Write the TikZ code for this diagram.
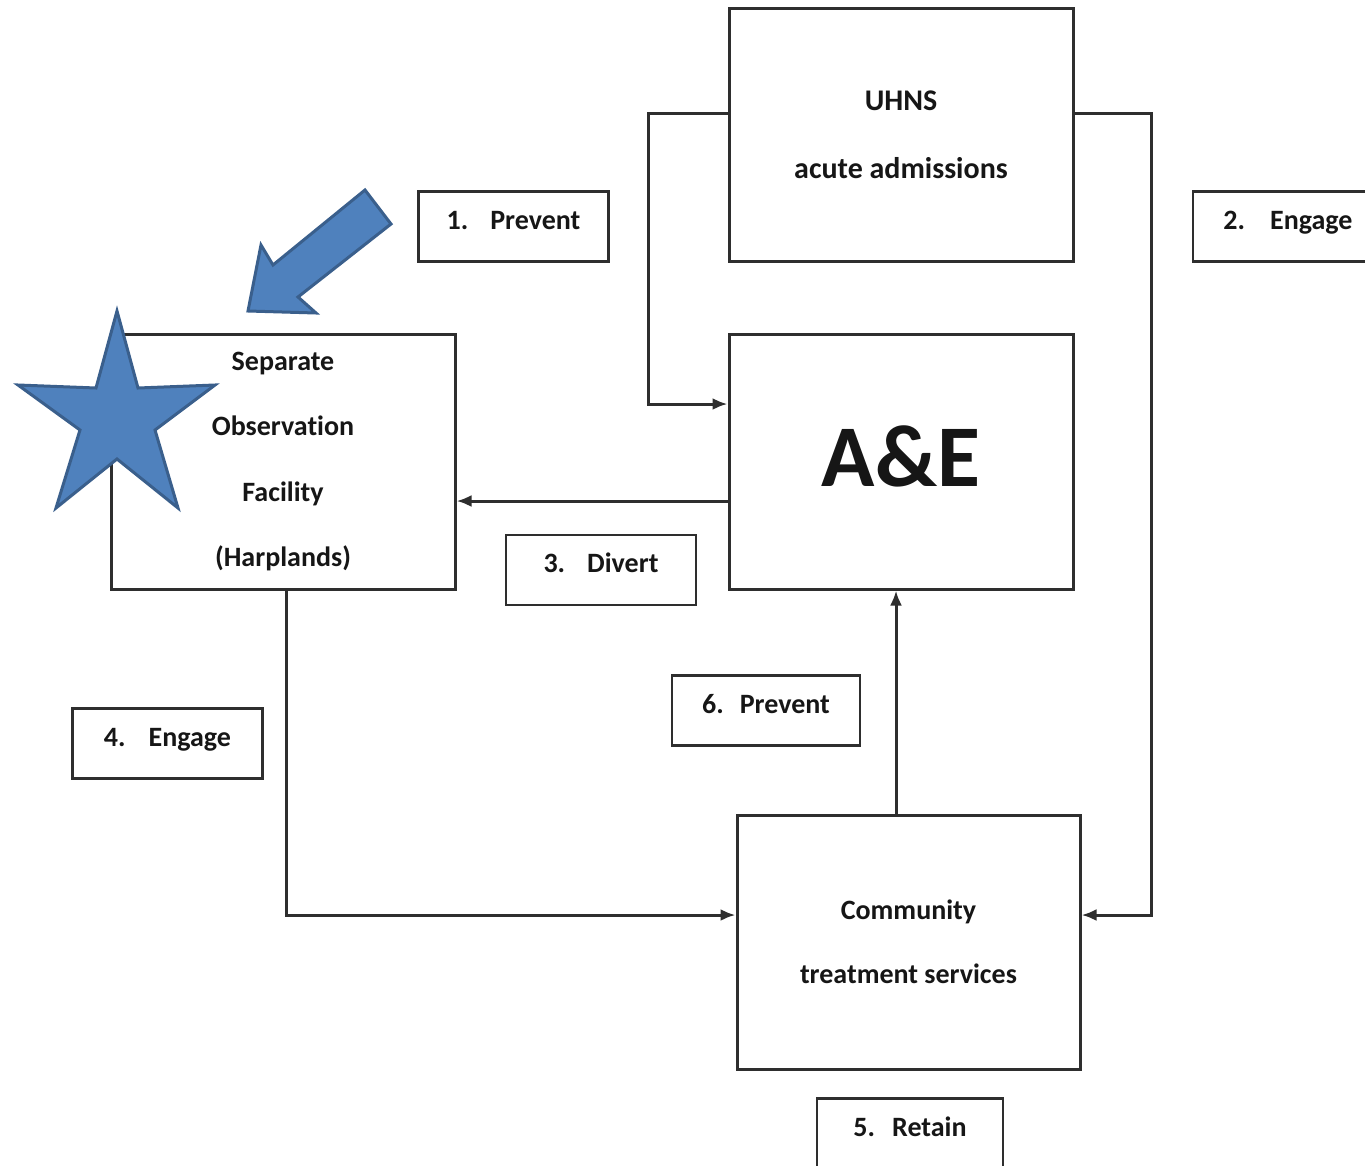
\documentclass[tikz,border=0pt]{standalone}
\usepackage{fontspec}
\setmainfont{Carlito}[Ligatures=NoCommon]
\usetikzlibrary{arrows.meta}
\definecolor{ink}{HTML}{2E2E2E}
\definecolor{txt}{HTML}{161616}
\definecolor{blueFill}{HTML}{4F81BD}
\definecolor{blueEdge}{HTML}{3A5F8C}
\tikzset{
  box/.style={draw=ink, line width=3pt, rectangle, inner sep=0pt,
    text=txt, align=center, font=\bfseries\fontsize{28}{65}\selectfont},
  tag/.style={draw=ink, line width=2.8pt, rectangle, inner sep=0pt,
    minimum width=190pt, minimum height=70pt, text=txt,
    text height=18pt, text depth=13pt,
    font=\bfseries\fontsize{28}{34}\selectfont},
  link/.style={draw=ink, line width=3pt, -{Latex[length=15pt,width=12pt]}},
  blueshape/.style={fill=blueFill, draw=blueEdge, line width=3pt, line join=miter}
}
\begin{document}
\begin{tikzpicture}[x=1pt,y=-1pt]
\useasboundingbox (0,0) rectangle (1365,1165);
\clip (0,0) rectangle (1365,1165);
\fill[white] (0,0) rectangle (1365,1165);

% main boxes
\node[box, minimum width=344pt, minimum height=253pt, font=\bfseries\fontsize{30}{68}\selectfont]
  (uhns) at (901,134.5) {UHNS\\acute admissions};
\node[box, minimum width=344pt, minimum height=255pt, font=\bfseries\fontsize{88}{90}\selectfont,
  text height=55pt, text depth=6pt]
  (aande) at (901,461.5) {A\&E};
\node[box, minimum width=344pt, minimum height=255pt, font=\bfseries\fontsize{28}{65.5}\selectfont]
  (sep) at (283,461.5) {Separate\\Observation\\Facility\\(Harplands)};
\node[box, minimum width=343pt, minimum height=254pt, font=\bfseries\fontsize{28}{64}\selectfont]
  (comm) at (908.5,942) {Community\\treatment services};

% numbered labels
\node[tag] (t1) at (513.5,226.5) {1.\hspace{22pt}Prevent};
\node[tag] (t2) at (1288,226.5) {2.\hspace{25pt}Engage};
\node[tag] (t3) at (601,570) {3.\hspace{22pt}Divert};
\node[tag] (t4) at (167.5,743.5) {4.\hspace{23pt}Engage};
\node[tag, minimum width=188pt] (t6) at (766,710.5) {6.\hspace{16pt}Prevent};
\node[tag, minimum width=186pt] (t5) at (910,1133.5) {5.\hspace{17pt}Retain};

% connectors
\draw[link] ([yshift=21pt]uhns.west) -- ++(-79,0) |- ([yshift=57.5pt]aande.west);
\draw[link] ([yshift=21pt]uhns.east) -- ++(77,0) |- ([yshift=27pt]comm.east);
\coordinate (dv) at ([yshift=-39.5pt]aande.west);
\draw[link] (dv) -- (dv -| sep.east);
\draw[link] ([xshift=3pt]sep.south) |- ([yshift=27pt]comm.west);
\draw[link] ([xshift=-12.5pt]comm.north) -- ([xshift=-5pt]aande.south);

% block arrow pointing at the observation facility
\draw[blueshape] (365,190) -- (391,224) -- (298,297) -- (316,313) -- (248,311)
  -- (261,245) -- (273,265) -- cycle;

% star
\draw[blueshape] (117,311) -- (138,388) -- (215,385) -- (155,430) -- (178,508)
  -- (117,459) -- (56,508) -- (80,430) -- (18,385) -- (96,388) -- cycle;
\end{tikzpicture}
\end{document}
